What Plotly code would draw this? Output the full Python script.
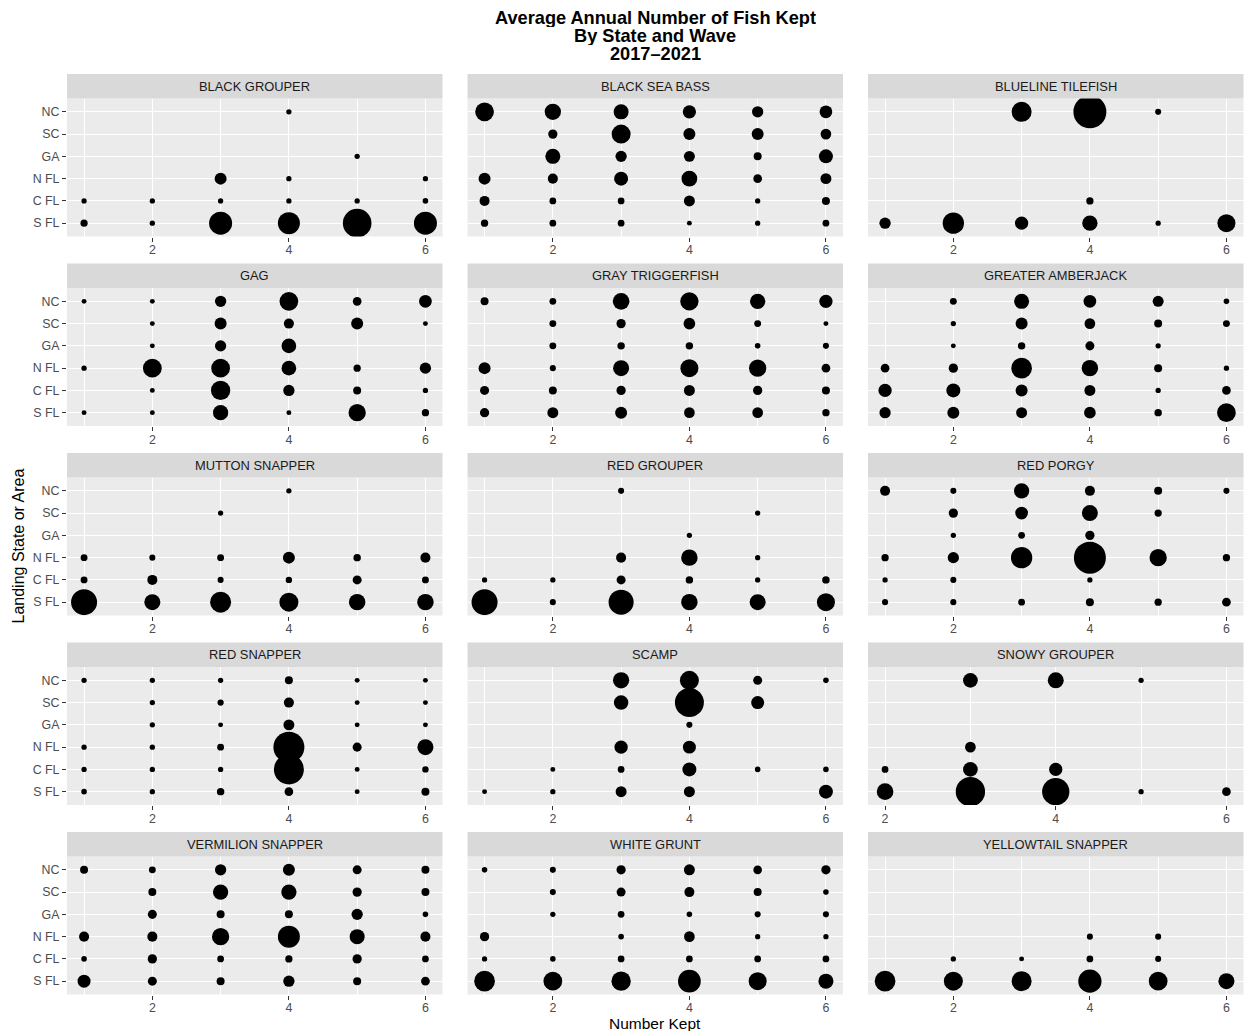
import math
import plotly.graph_objects as go

# ---- data -------------------------------------------------------------
STATES = ["NC", "SC", "GA", "N FL", "C FL", "S FL"]
WAVES = [1, 2, 3, 4, 5, 6]
X_TICKS = [2, 4, 6]

SPECIES = [
    "BLACK GROUPER", "BLACK SEA BASS", "BLUELINE TILEFISH",
    "GAG", "GRAY TRIGGERFISH", "GREATER AMBERJACK",
    "MUTTON SNAPPER", "RED GROUPER", "RED PORGY",
    "RED SNAPPER", "SCAMP", "SNOWY GROUPER",
    "VERMILION SNAPPER", "WHITE GRUNT", "YELLOWTAIL SNAPPER",
]

# Average annual fish kept (thousands); rows follow STATES, columns follow WAVES.
# None = nothing kept in that state/wave.
N = None
black_grouper = [
    [N, N, N, 2, N, N],
    [N, N, N, N, N, N],
    [N, N, N, N, 2, N],
    [N, N, 76, 2, N, 2],
    [2, 2, 2, 2, 2, 3],
    [12, 2, 430, 385, 720, 430],
]
black_sea_bass = [
    [257, 180, 144, 103, 63, 90],
    [N, 33, 268, 76, 76, 53],
    [N, 144, 63, 58, 19, 119],
    [76, 43, 119, 163, 26, 58],
    [43, 9, 9, 58, 2, 19],
    [13, 9, 9, 1, 2, 9],
]
blueline_tilefish = [
    [N, N, 304, 1000, 5, N],
    [N, N, N, N, N, N],
    [N, N, N, N, N, N],
    [N, N, N, N, N, N],
    [N, N, N, 13, N, N],
    [63, 357, 103, 152, 2, 233],
]
gag = [
    [1, 1, 63, 257, 26, 90],
    [N, 1, 76, 43, 76, 1],
    [N, 1, 63, 136, N, N],
    [2, 257, 257, 136, 13, 63],
    [N, 1, 279, 63, 19, 2],
    [1, 1, 152, 1, 210, 13],
]
gray_triggerfish = [
    [19, 9, 190, 243, 152, 103],
    [N, 10, 33, 70, 10, 1],
    [N, 10, 14, 14, 3, 5],
    [76, 5, 171, 233, 210, 26],
    [30, 19, 33, 58, 33, 19],
    [33, 58, 76, 53, 53, 13],
]
greater_amberjack = [
    [N, 10, 144, 90, 58, 3],
    [N, 2, 76, 53, 19, 10],
    [N, 1, 14, 30, 2, N],
    [26, 33, 330, 184, 19, 2],
    [103, 119, 76, 58, 2, 26],
    [63, 76, 58, 70, 14, 257],
]
mutton_snapper = [
    [N, N, N, 2, N, N],
    [N, N, 2, N, N, N],
    [N, N, N, N, N, N],
    [10, 5, 10, 76, 14, 43],
    [10, 43, 5, 7, 30, 10],
    [575, 171, 344, 268, 184, 184],
]
red_grouper = [
    [N, N, 5, N, N, N],
    [N, N, N, N, 2, N],
    [N, N, N, 2, N, N],
    [N, N, 43, 184, 2, N],
    [2, 2, 30, 14, 2, 14],
    [575, 5, 524, 184, 171, 233],
]
red_porgy = [
    [43, 5, 152, 43, 19, 5],
    [N, 33, 90, 171, 13, N],
    [N, 2, 9, 33, N, N],
    [13, 63, 357, 932, 210, 13],
    [2, 5, N, 2, N, N],
    [5, 5, 9, 19, 13, 26],
]
red_snapper = [
    [2, 2, 2, 19, 1, 1],
    [N, 2, 6, 43, 1, 1],
    [N, 2, 1, 58, 1, 1],
    [2, 2, 10, 867, 30, 171],
    [2, 2, 2, 804, 1, 7],
    [3, 2, 14, 26, 1, 19],
]
scamp = [
    [N, N, 179, 268, 30, 3],
    [N, N, 131, 743, 96, N],
    [N, N, N, 5, N, N],
    [N, N, 103, 96, N, N],
    [N, 1, 9, 119, 3, 3],
    [1, 2, 58, 58, N, 119],
]
snowy_grouper = [
    [N, N, 136, 171, 2, N],
    [N, N, N, N, N, N],
    [N, N, N, N, N, N],
    [N, N, 53, N, N, N],
    [N, 9, 136, 103, N, N],
    [N, 190, 762, 646, 2, 26],
]
vermilion_snapper = [
    [19, 10, 63, 76, 30, 19],
    [N, 19, 152, 152, 33, 19],
    [N, 30, 19, 19, 63, 3],
    [43, 43, 210, 385, 144, 43],
    [3, 33, 9, 13, 33, 9],
    [96, 30, 19, 63, 19, 26],
]
white_grunt = [
    [3, 5, 33, 58, 26, 33],
    [N, 5, 30, 43, 19, 3],
    [N, 2, 9, 3, 5, 5],
    [33, N, 3, 53, 2, 2],
    [2, 3, 9, 9, 9, 9],
    [330, 257, 279, 416, 233, 144],
]
yellowtail_snapper = [
    [N, N, N, N, N, N],
    [N, N, N, N, N, N],
    [N, N, N, N, N, N],
    [N, N, N, 5, 5, N],
    [N, 2, 1, 9, 5, N],
    [330, 268, 304, 440, 257, 171],
]

KEPT = [
    black_grouper, black_sea_bass, blueline_tilefish,
    gag, gray_triggerfish, greater_amberjack,
    mutton_snapper, red_grouper, red_porgy,
    red_snapper, scamp, snowy_grouper,
    vermilion_snapper, white_grunt, yellowtail_snapper,
]

# ---- styling / layout constants ---------------------------------------
W, H = 1247, 1034
FONT = "Liberation Sans, Arial, Helvetica, sans-serif"
PANEL_BG = "#EBEBEB"
STRIP_BG = "#D9D9D9"

COL_X0 = [67.0, 467.5, 868.0]
PANEL_W = 375.5
ROW_TOP0 = 74.0
ROW_STEP = 189.5
STRIP_H = 24.5
PANEL_H = 138.0

D_MIN, D_MAX = 4.0, 33.0  # marker diameter range (px)

all_vals = [v for grid in KEPT for row in grid for v in row if v is not None]
V_MAX = max(all_vals)


def diameter(v):
    # area scale: diameter grows with the square root of the value
    return D_MIN + (D_MAX - D_MIN) * math.sqrt(v / V_MAX)


def px_x(x):
    return x / W


def px_y(y):
    return 1 - y / H


fig = go.Figure()
shapes = []
annotations = []

for k, (name, grid) in enumerate(zip(SPECIES, KEPT)):
    r, c = divmod(k, 3)
    idx = "" if k == 0 else str(k + 1)
    x0 = COL_X0[c]
    top = ROW_TOP0 + r * ROW_STEP
    ptop = top + STRIP_H
    pbot = ptop + PANEL_H

    xs, ys, sz = [], [], []
    for si, st in enumerate(STATES):
        for wi, wv in enumerate(WAVES):
            v = grid[si][wi]
            if v is None:
                continue
            xs.append(wv)
            ys.append(st)
            sz.append(diameter(v))

    fig.add_trace(go.Scatter(
        x=xs, y=ys, mode="markers",
        marker=dict(size=sz, color="black", line=dict(width=0), opacity=1),
        xaxis="x" + idx, yaxis="y" + idx, showlegend=False,
        hoverinfo="skip",
    ))

    # free x scale: range follows the waves present, padded 5%
    present = [WAVES[wi] for wi in range(6) if any(grid[si][wi] is not None for si in range(6))]
    lo, hi = min(present), max(present)
    pad = (hi - lo) * 0.05
    minor_vals = [m for m in (1, 3, 5) if lo - pad <= m <= hi + pad]

    xa = dict(
        domain=[px_x(x0), px_x(x0 + PANEL_W)],
        anchor="y" + idx,
        range=[lo - pad, hi + pad],
        tickmode="array", tickvals=X_TICKS, ticktext=[str(t) for t in X_TICKS],
        ticks="outside", ticklen=4, tickwidth=1, tickcolor="#333333",
        ticklabelstandoff=-2,
        tickfont=dict(family=FONT, size=12.4, color="#4D4D4D"),
        showgrid=True, gridcolor="white", gridwidth=1.4,
        minor=dict(tickmode="array", tickvals=minor_vals, showgrid=True,
                   gridcolor="white", gridwidth=0.7, ticks=""),
        zeroline=False, showline=False, fixedrange=True,
    )
    ya = dict(
        domain=[px_y(pbot), px_y(ptop)],
        anchor="x" + idx,
        type="category",
        categoryorder="array", categoryarray=list(reversed(STATES)),
        range=[-0.6, 5.6],
        showgrid=True, gridcolor="white", gridwidth=1.4,
        zeroline=False, showline=False, fixedrange=True,
        tickfont=dict(family=FONT, size=12.4, color="#4D4D4D"),
    )
    if c == 0:
        ya.update(ticks="outside", ticklen=4, tickwidth=1, tickcolor="#333333",
                  showticklabels=True)
    else:
        ya.update(ticks="", showticklabels=False)

    fig.update_layout(**{"xaxis" + idx: xa, "yaxis" + idx: ya})

    # facet strip
    shapes.append(dict(
        type="rect", xref="paper", yref="paper",
        x0=px_x(x0), x1=px_x(x0 + PANEL_W), y0=px_y(ptop), y1=px_y(top),
        fillcolor=STRIP_BG, line=dict(width=0), layer="below",
    ))
    annotations.append(dict(
        text=name, xref="paper", yref="paper",
        x=px_x(x0 + PANEL_W / 2), y=px_y(top + STRIP_H / 2),
        xanchor="center", yanchor="middle", showarrow=False,
        font=dict(family=FONT, size=12.9, color="#1A1A1A"),
    ))

# titles
panels_cx = (COL_X0[0] + COL_X0[2] + PANEL_W) / 2
for line, yc in zip(["Average Annual Number of Fish Kept", "By State and Wave", "2017\u20132021"],
                    [18, 36, 54]):
    annotations.append(dict(
        text="<b>" + line + "</b>", xref="paper", yref="paper",
        x=px_x(panels_cx), y=px_y(yc), xanchor="center", yanchor="middle",
        height=18, showarrow=False,
        font=dict(family=FONT, size=18.2, color="black"),
    ))

annotations.append(dict(
    text="Number Kept", xref="paper", yref="paper",
    x=px_x(panels_cx), y=px_y(1023), xanchor="center", yanchor="middle",
    height=16, showarrow=False, font=dict(family=FONT, size=15.5, color="black"),
))
annotations.append(dict(
    text="Landing State or Area", xref="paper", yref="paper",
    x=px_x(18), y=px_y((ROW_TOP0 + STRIP_H + ROW_TOP0 + 4 * ROW_STEP + STRIP_H + PANEL_H) / 2),
    xanchor="center", yanchor="middle", textangle=-90,
    showarrow=False, font=dict(family=FONT, size=16, color="black"),
))

fig.update_layout(
    width=W, height=H,
    margin=dict(l=0, r=0, t=0, b=0),
    paper_bgcolor="white", plot_bgcolor=PANEL_BG,
    shapes=shapes, annotations=annotations,
    font=dict(family=FONT),
)

fig.write_html("out.html")
